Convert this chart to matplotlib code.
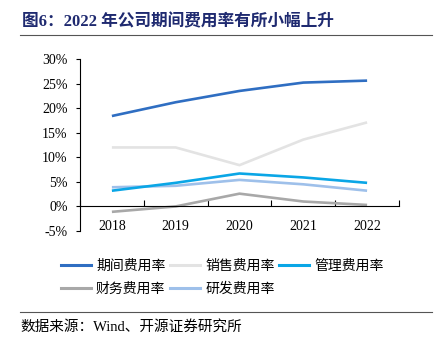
import matplotlib.pyplot as plt
from matplotlib.lines import Line2D

years = ["2018", "2019", "2020", "2021", "2022"]
qijian = [18.4, 21.2, 23.5, 25.2, 25.6]
xiaoshou = [12.0, 12.0, 8.4, 13.6, 17.1]
guanli = [3.2, 4.8, 6.7, 5.9, 4.8]
caiwu = [-1.1, 0.0, 2.6, 1.0, 0.3]
yanfa = [3.9, 4.2, 5.4, 4.5, 3.2]

names = ["期间费用率", "销售费用率", "管理费用率", "财务费用率", "研发费用率"]
colors = ["#2F6EC2", "#E3E3E3", "#0AA6E6", "#A8A8A8", "#9EC0EA"]
series = [qijian, xiaoshou, guanli, caiwu, yanfa]

plt.rcParams['font.family'] = ['Liberation Serif', 'Noto Sans CJK SC']

fig = plt.figure(figsize=(4.42, 3.51), dpi=100)
ax = fig.add_axes([80 / 442, 1 - 231 / 351, 319 / 442, 172 / 351])

x = list(range(len(years)))
# light ones first so the darker lines sit on top
order = [1, 3, 4, 2, 0]
for i in order:
    ax.plot(x, series[i], color=colors[i], lw=1.9, solid_capstyle='butt')

ax.set_xlim(-0.5, 4.5)
ax.set_ylim(-5, 30)
ax.set_yticks(range(-5, 31, 5))
ax.set_yticklabels([f"{v}%" for v in range(-5, 31, 5)], fontsize=10)
ax.set_xticks(x)
ax.set_xticklabels(years, fontsize=10)
ax.tick_params(axis='x', length=0, pad=10)
ax.set_xticks([i - 0.5 for i in range(6)], minor=True)
ax.tick_params(axis='x', which='minor', direction='in', length=4, width=0.8)
ax.tick_params(axis='y', length=3, width=0.8, pad=6)

for s in ['top', 'right']:
    ax.spines[s].set_visible(False)
ax.spines['bottom'].set_position(('data', 0))
ax.spines['left'].set_linewidth(0.8)
ax.spines['bottom'].set_linewidth(0.8)

# legend fills column by column, so reorder to get rows like the original
leg_order = [0, 3, 1, 4, 2]
handles = [Line2D([], [], color=colors[i], lw=2.2) for i in leg_order]
labels = [names[i] for i in leg_order]
fig.legend(handles, labels, ncol=3, loc='upper left',
           bbox_to_anchor=(48 / 442, 1 - 246 / 351), frameon=False,
           handlelength=2.2, handletextpad=0.36,
           columnspacing=0.3, labelspacing=0.65,
           prop={'family': ['Noto Sans CJK SC'], 'size': 10})

fig.text(22 / 442, 1 - 22 / 351, "图6：2022 年公司期间费用率有所小幅上升",
         fontsize=12, fontweight='bold', color='#1F2A70', va='center')
fig.add_artist(Line2D([20 / 442, 432 / 442], [1 - 35 / 351] * 2,
                      color='#555555', lw=0.8))
fig.add_artist(Line2D([20 / 442, 432 / 442], [1 - 312 / 351] * 2,
                      color='#555555', lw=0.8))
fig.text(20 / 442, 1 - 327 / 351, "数据来源：Wind、开源证券研究所",
         fontsize=10.5, va='center')

fig.savefig("out.png", dpi=100)
